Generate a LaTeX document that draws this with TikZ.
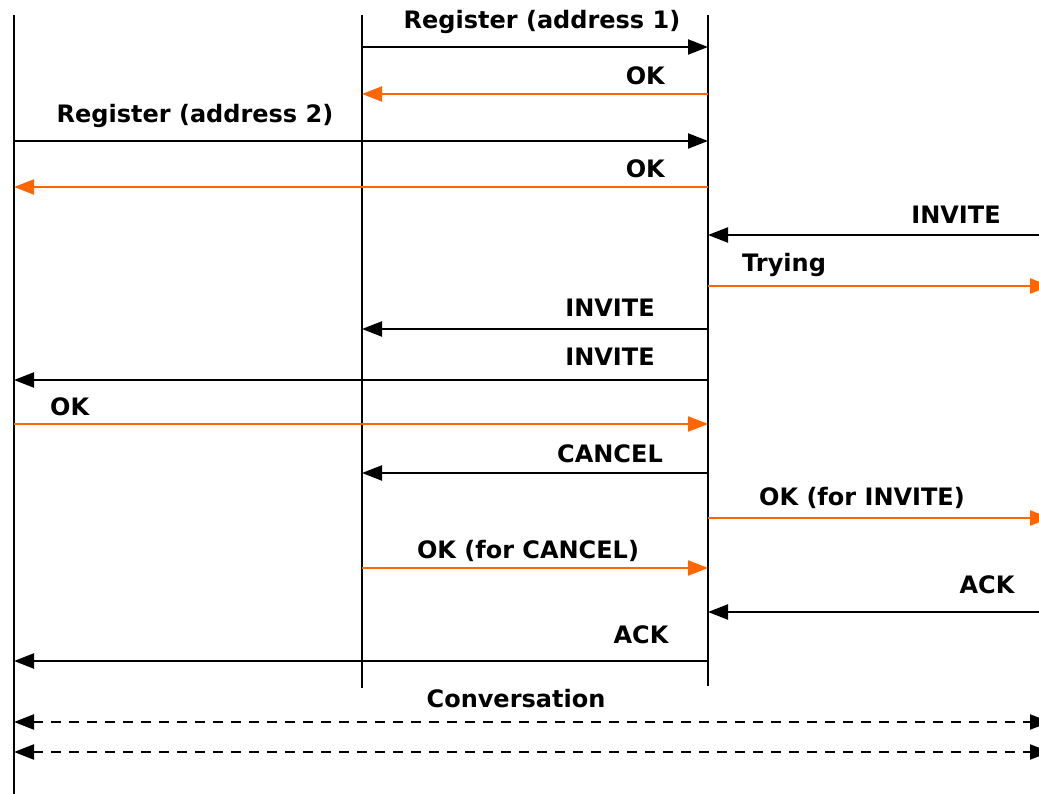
\documentclass[tikz,border=0pt]{standalone}
\usepackage{fontspec}
\setmainfont{DejaVu Sans}
\usetikzlibrary{arrows.meta}
\definecolor{resp}{HTML}{FF6600}
\tikzset{
  head/.tip={Triangle[length=20pt,width=15pt]},
  lifeline/.style={line width=2.2pt, black},
  msg/.style={line width=2.2pt, black, -head},
  reply/.style={msg, resp},
  media/.style={line width=2.2pt, black, dash pattern=on 10pt off 8pt, head-head},
  lbl/.style={inner sep=0pt, anchor=base, font=\bfseries\fontsize{24}{28}\selectfont}
}
\begin{document}
\begin{tikzpicture}[x=1pt, y=-1pt]
\useasboundingbox (0,0) rectangle (1039,794);
\clip (0,0) rectangle (1039,794);

% lifelines: phone at address 2, phone at address 1, proxy
\coordinate (Atop) at (14,15);   \coordinate (Abot) at (14,800);
\coordinate (Btop) at (362,15);  \coordinate (Bbot) at (362,688);
\coordinate (Ptop) at (708,15);  \coordinate (Pbot) at (708,686);
\draw[lifeline] (Atop) -- (Abot);
\draw[lifeline] (Btop) -- (Bbot);
\draw[lifeline] (Ptop) -- (Pbot);

% message end points
\coordinate (b1) at (362,47);   \coordinate (p1) at (708,47);
\coordinate (b2) at (362,94);   \coordinate (p2) at (708,94);
\coordinate (a3) at (14,141);   \coordinate (p3) at (708,141);
\coordinate (a4) at (14,187);   \coordinate (p4) at (708,187);
\coordinate (r5) at (1045,235); \coordinate (p5) at (708,235);
\coordinate (p6) at (708,286);  \coordinate (r6) at (1050,286);
\coordinate (p7) at (708,329);  \coordinate (b7) at (362,329);
\coordinate (p8) at (708,380);  \coordinate (a8) at (14,380);
\coordinate (a9) at (14,424);   \coordinate (p9) at (708,424);
\coordinate (p10) at (708,473); \coordinate (b10) at (362,473);
\coordinate (p11) at (708,518); \coordinate (r11) at (1050,518);
\coordinate (b12) at (362,568); \coordinate (p12) at (708,568);
\coordinate (r13) at (1045,612);\coordinate (p13) at (708,612);
\coordinate (p14) at (708,661); \coordinate (a14) at (14,661);
\coordinate (a15) at (14,722);  \coordinate (r15) at (1050,722);
\coordinate (a16) at (14,752);  \coordinate (r16) at (1050,752);

% messages
\draw[msg]   (b1) -- (p1);
\draw[reply] (p2) -- (b2);
\draw[msg]   (a3) -- (p3);
\draw[reply] (p4) -- (a4);
\draw[msg]   (r5) -- (p5);
\draw[reply] (p6) -- (r6);
\draw[msg]   (p7) -- (b7);
\draw[msg]   (p8) -- (a8);
\draw[reply] (a9) -- (p9);
\draw[msg]   (p10) -- (b10);
\draw[reply] (p11) -- (r11);
\draw[reply] (b12) -- (p12);
\draw[msg]   (r13) -- (p13);
\draw[msg]   (p14) -- (a14);
\draw[media] (a15) -- (r15);
\draw[media] (a16) -- (r16);

% labels
\node[lbl] (t1)  at (542,29)  {Register (address 1)};
\node[lbl, anchor=base east] (t2) at (665,85) {OK};
\node[lbl] (t3)  at (195,123) {Register (address 2)};
\node[lbl, anchor=base east] (t4) at (665,178) {OK};
\node[lbl] (t5)  at (956,224) {INVITE};
\node[lbl, anchor=base west] (t6) at (742,272) {Trying};
\node[lbl] (t7)  at (610,317) {INVITE};
\node[lbl] (t8)  at (610,366) {INVITE};
\node[lbl, anchor=base west] (t9) at (50,415) {OK};
\node[lbl] (t10) at (610,462) {CANCEL};
\node[lbl] (t11) at (862,505) {OK (for INVITE)};
\node[lbl] (t12) at (528,558) {OK (for CANCEL)};
\node[lbl] (t13) at (987,593) {ACK};
\node[lbl] (t14) at (641,643) {ACK};
\node[lbl] (t15) at (516,707) {Conversation};
\end{tikzpicture}
\end{document}
